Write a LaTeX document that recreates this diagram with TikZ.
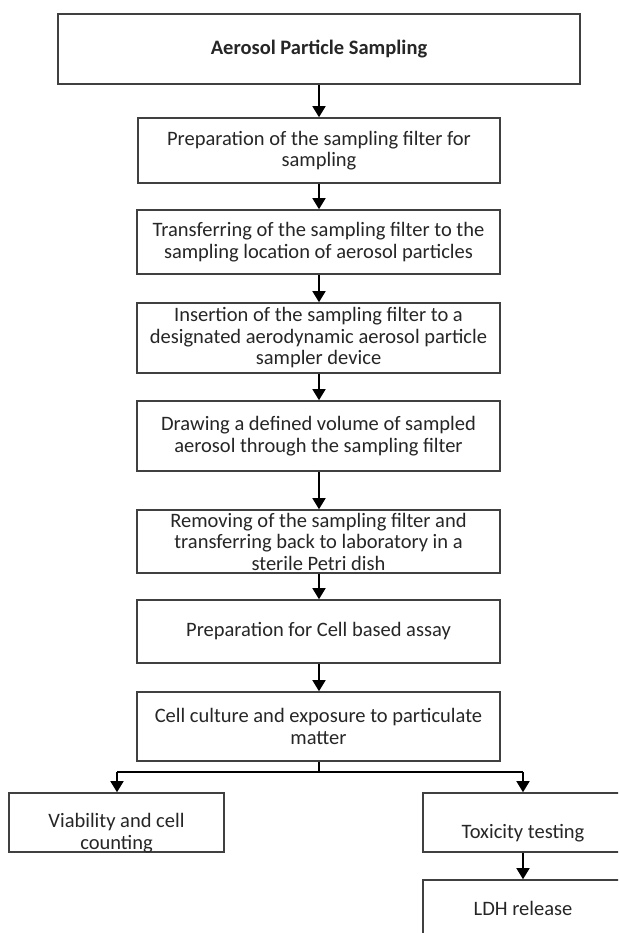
\documentclass[tikz,border=0pt]{standalone}
\usepackage{fontspec}
\setmainfont{Carlito}
\usetikzlibrary{arrows.meta}
\tikzset{
  box/.style={draw=black!75, line width=1.6pt, fill=white, align=center, inner sep=0pt,
    font=\fontsize{20.5}{21.5}\selectfont},
  lbl/.style={align=center, inner sep=0pt, font=\fontsize{20.5}{21.5}\selectfont, text=black!85},
  arr/.style={draw=black, line width=1.5pt, -{Triangle[length=11pt,width=13pt]}},
  ln/.style={draw=black, line width=1.5pt}
}
\begin{document}
\begin{tikzpicture}[x=1pt,y=-1pt]
\useasboundingbox (0,0) rectangle (618,933);
\clip (0,0) rectangle (618,933);
\fill[white] (0,0) rectangle (618,933);
\node[box, text=black!85, minimum width=522pt, minimum height=70pt, font=\fontsize{20.5}{21.5}\selectfont\bfseries] (b1) at (319,49) {Aerosol Particle Sampling};
\node[box, text=black!85, minimum width=362pt, minimum height=65pt] (b2) at (319,150.5) {Preparation of the sampling filter for\\sampling};
\node[box, text=black!85, minimum width=363pt, minimum height=64pt] (b3) at (318.5,242) {Transferring of the sampling filter to the\\sampling location of aerosol particles};
\node[box, text=black!85, minimum width=363pt, minimum height=70pt] (b4) at (318.5,338) {Insertion of the sampling filter to a\\designated aerodynamic aerosol particle\\sampler device};
\node[box, text=black!85, minimum width=363pt, minimum height=70pt] (b5) at (318.5,436) {Drawing a defined volume of sampled\\aerosol through the sampling filter};
\node[box, text=black!85, minimum width=363pt, minimum height=63pt] (b6) at (318.5,541.5) {Removing of the sampling filter and\\transferring back to laboratory in a\\sterile Petri dish};
\node[box, text=black!85, minimum width=363pt, minimum height=63pt] (b7) at (318.5,631.5) {Preparation for Cell based assay};
\node[box, text=black!85, minimum width=363pt, minimum height=69pt] (b8) at (318.5,726.5) {Cell culture and exposure to particulate\\matter};
\node[box, minimum width=215pt, minimum height=59pt] (vb) at (116.5,822.5) {};
\node[lbl] (vt) at (116.5,833) {Viability and cell\\counting};
\node[box, minimum width=207pt, minimum height=59pt] (tx) at (526.5,822.5) {};
\node[lbl] (tt) at (523,833) {Toxicity testing};
\node[box, minimum width=207pt, minimum height=70pt] (ld) at (526.5,915) {};
\node[lbl] (lt) at (523,908) {LDH release};
\coordinate (j) at (319,772);
\coordinate (jl) at (117,772);
\coordinate (jr) at (523,772);
\draw[arr] (b1.south -| 319,0) -- (b2.north -| 319,0);
\draw[arr] (b2.south -| 319,0) -- (b3.north -| 319,0);
\draw[arr] (b3.south -| 319,0) -- (b4.north -| 319,0);
\draw[arr] (b4.south -| 319,0) -- (b5.north -| 319,0);
\draw[arr] (b5.south -| 319,0) -- (b6.north -| 319,0);
\draw[arr] (b6.south -| 319,0) -- (b7.north -| 319,0);
\draw[arr] (b7.south -| 319,0) -- (b8.north -| 319,0);
\draw[ln] (b8.south -| j) -- (j);
\draw[ln] (jl) -- (jr);
\draw[arr] (jl) -- (vb.north -| jl);
\draw[arr] (jr) -- (tx.north -| jr);
\draw[arr] (tx.south -| jr) -- (ld.north -| jr);
\end{tikzpicture}
\end{document}
